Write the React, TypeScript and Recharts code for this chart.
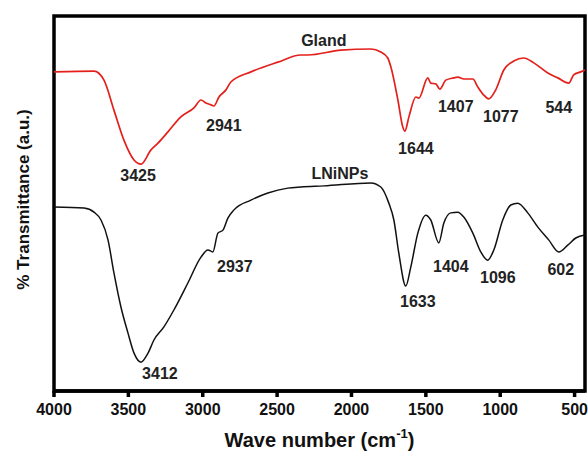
import React from "react"
import {
  LineChart, Line, XAxis, YAxis, ReferenceDot, ReferenceArea,
} from "recharts"

// wave numbers (cm-1) and transmittance (a.u., 0-100)
const glandWn = [
  4000, 3731, 3664, 3597, 3530, 3462, 3415, 3348, 3301, 3234, 3147, 3059, 3012, 2979, 2945,
  2925, 2891, 2844, 2811, 2676, 2495, 2340, 2293, 2071, 1870, 1803, 1756, 1735, 1688, 1655,
  1641, 1614, 1567, 1547, 1487, 1467, 1433, 1406, 1366, 1312, 1285, 1245, 1184, 1151, 1110,
  1077, 1030, 976, 909, 842, 774, 680, 613, 539, 506, 459, 430,
]
const glandT = [
  85.1, 85.3, 82.9, 74.9, 66.9, 61.6, 60.5, 64.3, 66.1, 69.1, 73.1, 75.5, 77.6, 76.8, 76.3,
  76.0, 78.4, 80.3, 82.4, 85.1, 87.7, 89.6, 89.6, 90.9, 91.2, 90.4, 88.8, 86.4, 77.6, 70.4,
  69.3, 73.1, 78.4, 78.1, 83.5, 82.1, 81.9, 80.5, 82.9, 83.5, 83.7, 83.2, 83.2, 81.1, 78.9,
  77.9, 80.3, 85.6, 88.0, 88.8, 87.5, 84.8, 83.5, 82.1, 84.3, 85.1, 85.6,
]

const lniWn = [
  4000, 3798, 3731, 3684, 3637, 3597, 3550, 3503, 3462, 3415, 3368, 3328, 3261, 3194, 3100,
  3012, 2965, 2932, 2898, 2864, 2831, 2790, 2676, 2562, 2428, 2340, 2186, 1870, 1803, 1749,
  1715, 1682, 1635, 1601, 1554, 1500, 1467, 1413, 1379, 1332, 1285, 1245, 1184, 1131, 1084,
  1043, 983, 929, 882, 815, 747, 674, 606, 546, 492, 430,
]
const lniT = [
  49.1, 48.8, 47.7, 45.6, 40.3, 31.5, 22.4, 15.5, 10.1, 7.7, 10.1, 13.6, 17.1, 21.6, 28.8,
  35.7, 37.6, 37.1, 42.1, 42.9, 46.1, 48.3, 50.9, 52.8, 54.1, 54.4, 54.7, 55.5, 54.4, 50.1,
  45.6, 36.8, 28.0, 33.1, 42.1, 46.9, 45.6, 39.5, 44.8, 47.5, 47.7, 46.4, 42.1, 37.1, 34.9,
  37.6, 45.6, 49.6, 50.1, 47.5, 43.7, 40.3, 37.1, 38.9, 40.8, 41.6,
]

const xTicks = [4000, 3500, 3000, 2500, 2000, 1500, 1000, 500]

// peak labels and series names, placed in data units
const annotations = [
  { text: "Gland", wn: 2186, t: 93.6 },
  { text: "3425", wn: 3435, t: 57.6 },
  { text: "2941", wn: 2858, t: 70.9 },
  { text: "1644", wn: 1567, t: 64.8 },
  { text: "1407", wn: 1299, t: 76.0 },
  { text: "1077", wn: 996, t: 73.3 },
  { text: "544", wn: 606, t: 75.7 },
  { text: "LNiNPs", wn: 2078, t: 58.1 },
  { text: "3412", wn: 3288, t: 4.8 },
  { text: "2937", wn: 2784, t: 33.1 },
  { text: "1633", wn: 1554, t: 24.0 },
  { text: "1404", wn: 1332, t: 33.1 },
  { text: "1096", wn: 1016, t: 30.4 },
  { text: "602", wn: 593, t: 32.5 },
]

const glandData = glandWn.map((wn, i) => ({ wn, t: glandT[i] }))
const lniData = lniWn.map((wn, i) => ({ wn, t: lniT[i] }))

const FONT = "Arial, 'Liberation Sans', sans-serif"

function XTitle({ viewBox }: any) {
  const cx = viewBox.x + viewBox.width / 2
  return (
    <text x={cx} y={viewBox.y + 49} textAnchor="middle" dominantBaseline="central"
      fontFamily={FONT} fontWeight={700} fontSize={20} fill="#111">
      <tspan>Wave number (cm</tspan>
      <tspan fontSize={13} dy={-7}>-1</tspan>
      <tspan dy={7}>)</tspan>
    </text>
  )
}

function YTitle({ viewBox }: any) {
  const cy = viewBox.y + viewBox.height / 2 - 4
  return (
    <text x={23} y={cy} transform={`rotate(-90 23 ${cy})`} textAnchor="middle"
      dominantBaseline="central" fontFamily={FONT} fontWeight={700} fontSize={17} fill="#111">
      % Transmittance (a.u.)
    </text>
  )
}

export default function App() {
  return (
    <div style={{ position: "absolute", left: 0, top: 0, background: "#fff" }}>
      <LineChart width={588} height={454} margin={{ top: 16, right: 3, bottom: 3, left: 54 }}>
        <XAxis
          dataKey="wn"
          type="number"
          domain={[430, 4000]}
          reversed
          ticks={xTicks}
          allowDataOverflow
          axisLine={{ stroke: "#000", strokeWidth: 3.5 }}
          tickLine={{ stroke: "#000", strokeWidth: 3.5 }}
          tickSize={6}
          tickMargin={7}
          height={60}
          tick={{ fill: "#111", fontSize: 16, fontWeight: 700, fontFamily: FONT }}
          label={{ content: XTitle }}
        />
        <YAxis type="number" domain={[0, 100]} hide />
        <ReferenceArea
          x1={4000}
          x2={430}
          y1={0}
          y2={100}
          fill="none"
          stroke="#000"
          strokeWidth={3.5}
          ifOverflow="visible"
          label={{ content: YTitle }}
        />
        <Line data={glandData} dataKey="t" type="monotone" stroke="#e3201b" strokeWidth={1.7}
          dot={false} isAnimationActive={false} />
        <Line data={lniData} dataKey="t" type="monotone" stroke="#111" strokeWidth={1.5}
          dot={false} isAnimationActive={false} />
        {annotations.map((a) => (
          <ReferenceDot
            key={a.text}
            x={a.wn}
            y={a.t}
            r={0}
            shape={(p: any) => (
              <text x={p.cx} y={p.cy} textAnchor="middle" dominantBaseline="central"
                fontFamily={FONT} fontWeight={700} fontSize={16} fill="#222">
                {a.text}
              </text>
            )}
          />
        ))}
      </LineChart>
    </div>
  )
}
